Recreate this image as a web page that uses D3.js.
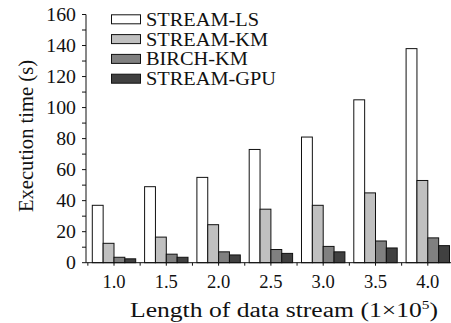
<!DOCTYPE html>
<html><head><meta charset="utf-8">
<script src="https://cdn.jsdelivr.net/npm/d3@7"></script>
<style>body{margin:0;background:#fff}svg{display:block}text{font-family:"Liberation Serif","Times New Roman",serif;fill:#111}</style>
</head><body>
<script>
const categories = ["1.0","1.5","2.0","2.5","3.0","3.5","4.0"];
const seriesNames = ["STREAM-LS","STREAM-KM","BIRCH-KM","STREAM-GPU"];
const streamLS  = [37, 49, 55, 73, 81, 105, 138];
const streamKM  = [12.5, 16.5, 24.5, 34.5, 37, 45, 53];
const birchKM   = [3.5, 5.5, 7, 8.5, 10.5, 14, 16];
const streamGPU = [2.5, 3.5, 5, 6, 7, 9.5, 11];
const yTicks = [0,20,40,60,80,100,120,140,160];
const seriesValues = [streamLS, streamKM, birchKM, streamGPU];
const colors = ["#ffffff","#c0c0c0","#808080","#404040"];

const W = 451, H = 323;
const svg = d3.select("body").append("svg").attr("width", W).attr("height", H);

const x0 = 86, y0 = 262.7, yTop = 14.5;
const x = d3.scaleBand().domain(categories).range([87.85, 453.95]).paddingInner(0.17).paddingOuter(0.085);
const xs = d3.scaleBand().domain(seriesNames).range([0, x.bandwidth()]);
const y = d3.scaleLinear().domain([0,160]).range([y0, yTop]);

function stretch(sel, f){ sel.each(function(){ const L = this.getComputedTextLength(); d3.select(this).attr("textLength", L*f).attr("lengthAdjust","spacingAndGlyphs"); }); }

// bars
const g = svg.append("g");
categories.forEach((c, i) => {
  seriesNames.forEach((s, j) => {
    const v = seriesValues[j][i];
    g.append("rect")
      .attr("x", x(c) + xs(s)).attr("width", xs.bandwidth())
      .attr("y", y(v)).attr("height", y0 - y(v))
      .attr("fill", colors[j]).attr("stroke", "#111").attr("stroke-width", 1);
  });
});

// y axis
const ya = svg.append("g");
ya.append("line").attr("x1", x0).attr("x2", x0).attr("y1", y(160)).attr("y2", y0).attr("stroke","#111");
d3.range(0,161,10).forEach(v => {
  ya.append("line").attr("x1", x0-4).attr("x2", x0).attr("y1", y(v)).attr("y2", y(v)).attr("stroke","#111");
});
const yl = ya.selectAll("text.yt").data(yTicks).enter().append("text").attr("class","yt")
  .attr("x", x0-10).attr("y", d => y(d)+6).attr("text-anchor","end").attr("font-size", 18).text(d => d);
stretch(yl, 1.1);

// x axis
const xa = svg.append("g");
xa.append("line").attr("x1", x0).attr("x2", W).attr("y1", y0).attr("y2", y0).attr("stroke","#111");
const step = x.step();
const first = x.range()[0];
d3.range(0, categories.length+1).forEach(k => {
  const bx = first + k*step;
  xa.append("line").attr("x1", bx).attr("x2", bx).attr("y1", y0).attr("y2", y0+3).attr("stroke","#111");
});
categories.forEach(c => {
  const cx = x(c) + x.bandwidth()/2;
  xa.append("line").attr("x1", cx).attr("x2", cx).attr("y1", y0).attr("y2", y0+3).attr("stroke","#111");
});
const xl = xa.selectAll("text.xt").data(categories).enter().append("text").attr("class","xt")
  .attr("x", d => x(d)+x.bandwidth()/2).attr("y", 288).attr("text-anchor","middle").attr("font-size", 18).text(d => d);
stretch(xl, 1.03);

// axis titles
const xt = svg.append("text").attr("x", 130).attr("y", 317).attr("font-size", 20);
xt.append("tspan").text("Length of data stream (1×10");
xt.append("tspan").attr("font-size", 12).attr("dy", -8).text("5");
xt.append("tspan").attr("dy", 8).text(")");
xt.attr("textLength", 308).attr("lengthAdjust","spacingAndGlyphs");

const yt = svg.append("text").attr("transform", "translate(33,136) rotate(-90)")
  .attr("text-anchor","middle").attr("font-size", 20).text("Execution time (s)");
yt.attr("textLength", 152).attr("lengthAdjust","spacingAndGlyphs");

// legend
const leg = svg.append("g");
seriesNames.forEach((s, j) => {
  const cy = 19.3 + j*19.8;
  leg.append("rect").attr("x", 111.5).attr("y", cy-4.5).attr("width", 29).attr("height", 9)
    .attr("fill", colors[j]).attr("stroke", "#111").attr("stroke-width", 1);
  leg.append("text").attr("class","lt").attr("x", 146).attr("y", cy+6.5).attr("font-size", 18.5).text(s);
});
stretch(leg.selectAll("text.lt"), 1.1);
</script>
</body></html>
